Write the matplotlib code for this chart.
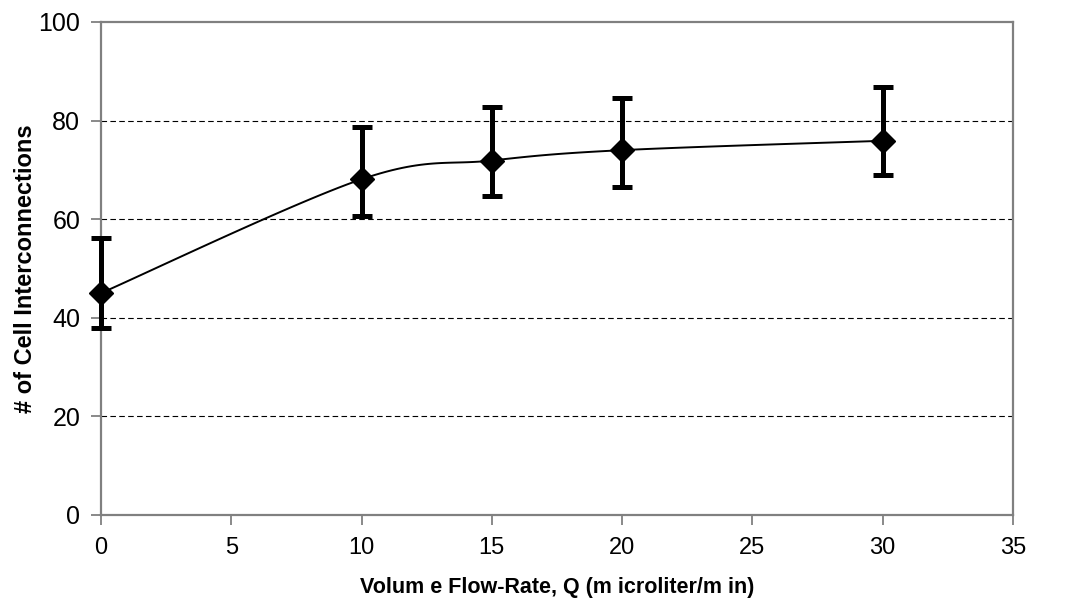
import numpy as np
import matplotlib
matplotlib.use('Agg')
import matplotlib.pyplot as plt
from matplotlib import font_manager

# data
flow_rate = [0, 10, 15, 20, 30]
connections = [45.0, 68.1, 71.9, 74.0, 75.9]
err_upper = [11.1, 10.5, 10.9, 10.5, 11.0]
err_lower = [7.1, 7.5, 7.2, 7.4, 6.9]

x_ticks = [0, 5, 10, 15, 20, 25, 30, 35]
y_ticks = [0, 20, 40, 60, 80, 100]
x_label = 'Volum e Flow-Rate, Q (m icroliter/m in)'
y_label = '# of Cell Interconnections'

names = {f.name for f in font_manager.fontManager.ttflist}
base_font = 'Liberation Sans' if 'Liberation Sans' in names else 'DejaVu Sans'
plt.rcParams['font.family'] = base_font


def smooth(xs, ys, n=30):
    # excel-style smoothed line (bezier with catmull-rom control points)
    pts = np.column_stack([xs, ys]).astype(float)
    ext = np.vstack([pts[0], pts, pts[-1]])
    out = []
    for i in range(len(pts) - 1):
        p0, p3 = ext[i + 1], ext[i + 2]
        c1 = p0 + (ext[i + 2] - ext[i]) / 6.
        c2 = p3 - (ext[i + 3] - ext[i + 1]) / 6.
        t = np.linspace(0, 1, n)[:, None]
        seg = ((1 - t)**3 * p0 + 3 * (1 - t)**2 * t * c1
               + 3 * (1 - t) * t**2 * c2 + t**3 * p3)
        out.append(seg if i == 0 else seg[1:])
    out = np.vstack(out)
    return out[:, 0], out[:, 1]


fig = plt.figure(figsize=(10.7, 6.07), dpi=100)
ax = fig.add_axes([0.0944, 0.1516, 0.8523, 0.8122])

for y in y_ticks[1:-1]:
    ax.axhline(y, color='black', lw=0.8, dashes=(5, 3), zorder=1)

sx, sy = smooth(flow_rate, connections)
ax.plot(sx, sy, color='black', lw=1.4, zorder=2, clip_on=False)
eb = ax.errorbar(flow_rate, connections, yerr=[err_lower, err_upper], fmt='D',
                 color='black', ms=12, elinewidth=3.6, capsize=7.5,
                 capthick=3.6, zorder=3, clip_on=False)
for art in eb.lines[1] + eb.lines[2]:
    art.set_clip_on(False)

ax.set_xlim(0, 35)
ax.set_ylim(0, 100)
ax.set_xticks(x_ticks)
ax.set_yticks(y_ticks)
ax.set_xticklabels([str(v) for v in x_ticks], fontsize=17)
ax.set_yticklabels([str(v) for v in y_ticks], fontsize=18)
ax.tick_params(axis='both', direction='out', length=7, width=1.3,
               color='#808080')
ax.tick_params(axis='x', pad=9)
ax.tick_params(axis='y', pad=8)
for s in ax.spines.values():
    s.set_color('#808080')
    s.set_linewidth(1.6)

ax.set_xlabel(x_label, fontsize=15.5, fontweight='bold', va='center')
ax.set_ylabel(y_label, fontsize=17, fontweight='bold', va='center')
ax.xaxis.set_label_coords(0.5, -0.147)
ax.yaxis.set_label_coords(-0.083, 0.5)

fig.savefig('out.png', dpi=100)
